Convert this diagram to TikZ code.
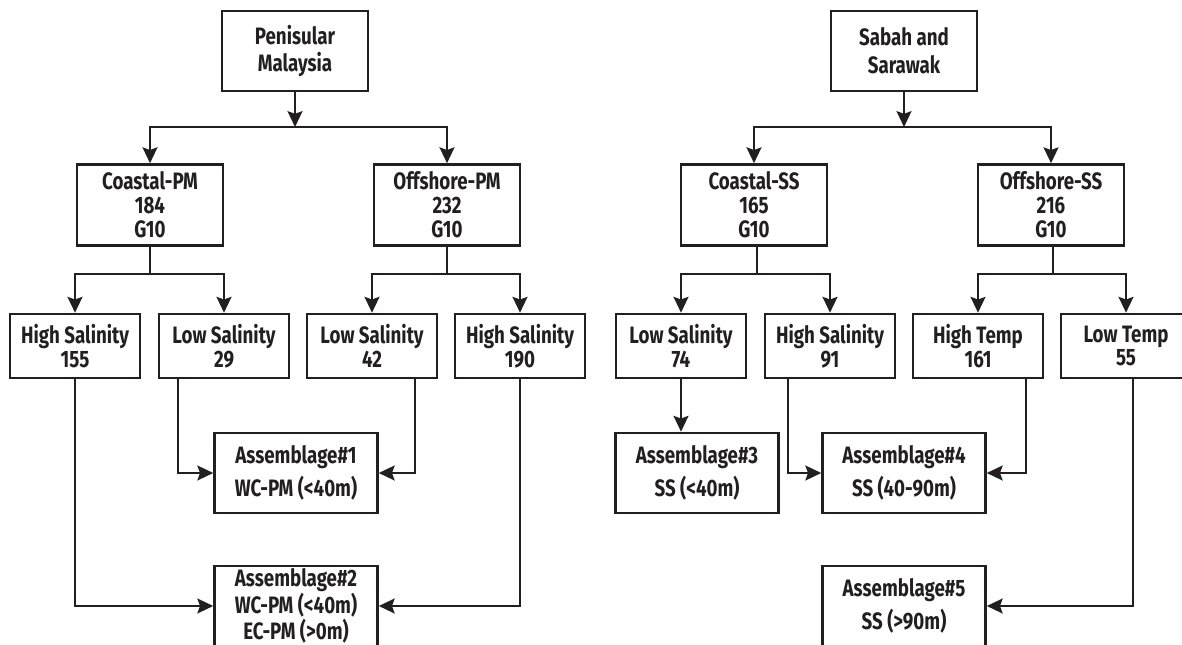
\documentclass[tikz,border=0pt]{standalone}
\usepackage{fontspec}
\setmainfont{Fira Sans}[FakeStretch=0.79]
\usetikzlibrary{arrows.meta,positioning}
\definecolor{ink}{RGB}{35,31,32}
\tikzset{
	>={Stealth[length=9pt,width=8.5pt,inset=1.5pt]},
	box/.style={draw=ink,text=ink,rectangle,align=center,line width=1.5pt,inner sep=0pt,font=\bfseries\fontsize{13.5}{13.6}\selectfont},
	region/.style={box,minimum width=2.92cm,minimum height=1.6cm},
	site/.style={box,minimum width=2.92cm,minimum height=1.62cm},
	water/.style={box,minimum width=2.6cm,minimum height=1.28cm},
	assem/.style={box,minimum width=3.26cm,minimum height=1.6cm},
	link/.style={draw=ink,line width=1.2pt}
}

\begin{document}
\begin{tikzpicture}[x=0.02cm,y=-0.02cm]
	\useasboundingbox (0,0) rectangle (1182,645);
	\clip (0,0) rectangle (1182,645);
	% Penisular Malaysia
	\node[region] (pm) at (295,51) {Penisular\\[2.3pt]Malaysia};
	\node[site] (cpm) at (150,205) {Coastal-PM\\184\\G10};
	\node[site] (opm) at (447,205) {Offshore-PM\\232\\G10};
	\node[water] (hs1) at (75,346) {High Salinity\\155};
	\node[water] (ls1) at (224,346) {Low Salinity\\29};
	\node[water] (ls2) at (372,346) {Low Salinity\\42};
	\node[water] (hs2) at (520,346) {High Salinity\\190};
	\node[assem] (a1) at (296,473) {Assemblage\#1\\[3.4pt]WC-PM (<40m)};
	\node[assem] (a2) at (296,606) {Assemblage\#2\\WC-PM (<40m)\\EC-PM (>0m)};
	\coordinate (jpm) at (295,127);
	\coordinate (jcpm) at (150,274);
	\coordinate (jopm) at (447,274);

	\draw[link,->] (pm) -- (jpm);
	\draw[link,->] (jpm) -| (cpm);
	\draw[link,->] (jpm) -| (opm);
	\draw[link] (cpm) -- (jcpm);
	\draw[link,->] (jcpm) -| (hs1);
	\draw[link,->] (jcpm) -| (ls1);
	\draw[link] (opm) -- (jopm);
	\draw[link,->] (jopm) -| (ls2);
	\draw[link,->] (jopm) -| (hs2);
	\draw[link,->] ([xshift=0.4cm]ls1.south west) |- (a1.west);
	\draw[link,->] ([xshift=-0.46cm]ls2.south east) |- (a1.east);
	\draw[link,->] (hs1) |- (a2);
	\draw[link,->] (hs2) |- (a2);

	% Sabah and Sarawak
	\node[region] (ss) at (904,51) {Sabah and\\[2.3pt]Sarawak};
	\node[site] (css) at (754,205) {Coastal-SS\\165\\G10};
	\node[site] (oss) at (1051,205) {Offshore-SS\\216\\G10};
	\node[water] (ls3) at (681,346) {Low Salinity\\74};
	\node[water] (hs3) at (830,346) {High Salinity\\91};
	\node[water] (ht) at (978,346) {High Temp\\161};
	\node[water] (lt) at (1126,346) {Low Temp\\55};
	\node[assem] (a3) at (697,473) {Assemblage\#3\\[3.4pt]SS (<40m)};
	\node[assem] (a4) at (904,473) {Assemblage\#4\\[3.4pt]SS (40-90m)};
	\node[assem] (a5) at (904,606) {Assemblage\#5\\[3.4pt]SS (>90m)};
	\coordinate (jss) at (904,127);
	\coordinate (jcss) at (757,274);
	\coordinate (joss) at (1053,274);

	\draw[link,->] (ss) -- (jss);
	\draw[link,->] (jss) -| (css);
	\draw[link,->] (jss) -| (oss);
	\draw[link] (css.south -| jcss) -- (jcss);
	\draw[link,->] (jcss) -| (ls3);
	\draw[link,->] (jcss) -| (hs3);
	\draw[link] (oss.south -| joss) -- (joss);
	\draw[link,->] (joss) -| (ht);
	\draw[link,->] (joss) -| (lt);
	\draw[link,->] (ls3) -- (ls3 |- a3.north);
	\draw[link,->] ([xshift=0.48cm]hs3.south west) |- (a4.west);
	\draw[link,->] ([xshift=-0.36cm]ht.south east) |- (a4.east);
	\draw[link,->] ([xshift=0.14cm]lt.south) |- (a5.east);
\end{tikzpicture}
\end{document}
